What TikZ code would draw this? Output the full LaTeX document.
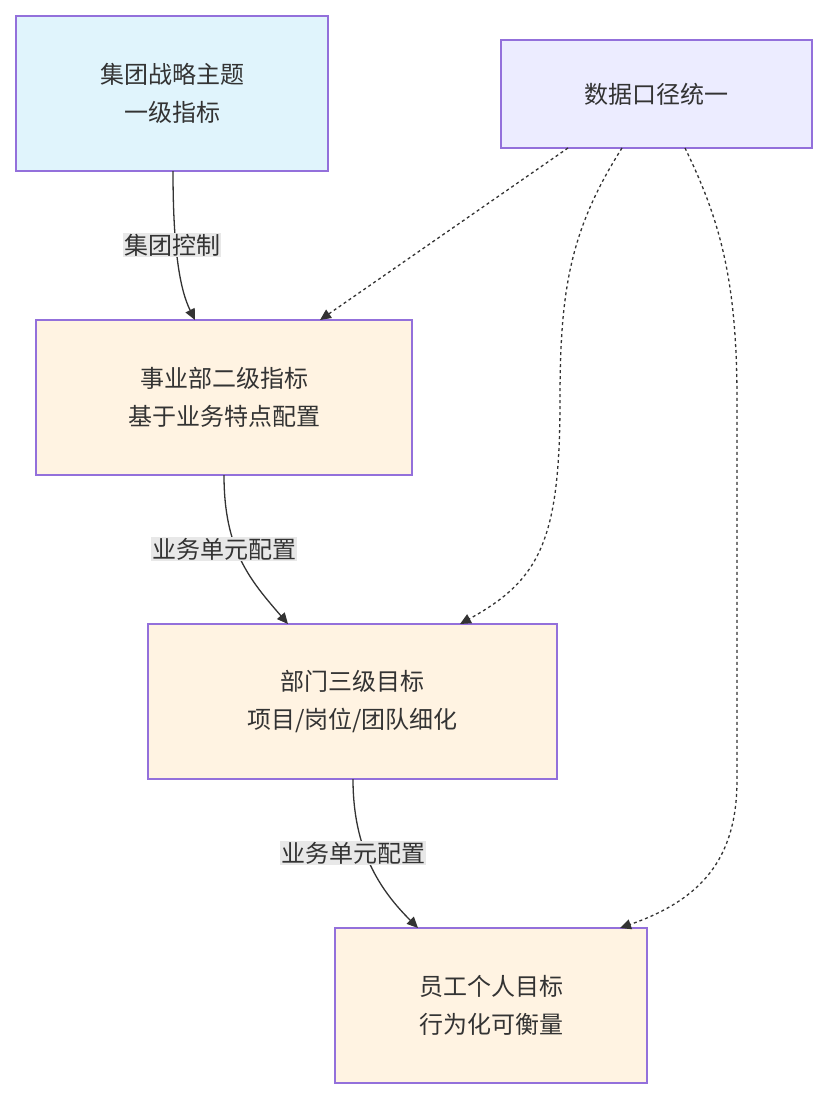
\documentclass[tikz,border=0pt]{standalone}
\usepackage{fontspec}
\setmainfont{Noto Sans CJK SC}
\usetikzlibrary{arrows.meta}
\definecolor{stroke}{HTML}{9370DB}
\definecolor{blue1}{HTML}{E0F4FC}
\definecolor{lav}{HTML}{ECECFF}
\definecolor{org}{HTML}{FFF3E2}
\definecolor{lbl}{HTML}{E8E8E8}
\definecolor{txt}{HTML}{333333}
\begin{document}
\begin{tikzpicture}[x=1pt,y=-1pt,
 box/.style={draw=stroke,line width=1.2pt,align=center,text=txt,font=\fontsize{24}{38}\selectfont,inner sep=0pt},
 lab/.style={fill=lbl,text=txt,font=\fontsize{24}{30}\selectfont,inner sep=1pt},
 solid arr/.style={draw=txt,line width=1.3pt,-{Triangle[length=11pt,width=10pt]}},
 dash arr/.style={draw=txt,line width=1.3pt,dash pattern=on 3pt off 3pt,-{Triangle[length=11pt,width=10pt]}}]
\useasboundingbox (0,0) rectangle (828,1100);
\node[box,fill=blue1,minimum width=312pt,minimum height=155pt] (A) at (172,93.5) {集团战略主题\\一级指标};
\node[box,fill=lav,minimum width=311pt,minimum height=108pt] (B) at (656.5,94) {数据口径统一};
\node[box,fill=org,minimum width=376pt,minimum height=155pt] (C) at (224,397.5) {事业部二级指标\\基于业务特点配置};
\node[box,fill=org,minimum width=409pt,minimum height=155pt] (D) at (352.5,701.5) {部门三级目标\\项目/岗位/团队细化};
\node[box,fill=org,minimum width=312pt,minimum height=155pt] (E) at (491,1005.5) {员工个人目标\\行为化可衡量};
\coordinate (a1) at (173,171); \coordinate (c0) at (195,320);
\coordinate (c1) at (224,475); \coordinate (d0) at (288,624);
\coordinate (d1) at (353,779); \coordinate (e0) at (418,928);
\draw[solid arr] (a1) .. controls (173,250) and (180,290) .. (c0);
\draw[solid arr] (c1) .. controls (224,550) and (250,580) .. (d0);
\draw[solid arr] (d1) .. controls (353,850) and (380,890) .. (e0);
\node[lab] (l1) at (172,245) {集团控制};
\node[lab] (l2) at (224,549) {业务单元配置};
\node[lab] (l3) at (353,853) {业务单元配置};
\coordinate (b1) at (568,148); \coordinate (b2) at (622,148); \coordinate (b3) at (685,148);
\coordinate (c2) at (320,320); \coordinate (d2) at (460,624); \coordinate (e2) at (620,928);
\draw[dash arr] (b1) -- (c2);
\draw[dash arr] (b2) .. controls (570,230) and (560,290) .. (560,400) .. controls (560,540) and (540,580) .. (d2);
\draw[dash arr] (b3) .. controls (720,220) and (737,280) .. (737,400) -- (737,780) .. controls (737,860) and (700,900) .. (e2);
\end{tikzpicture}
\end{document}
